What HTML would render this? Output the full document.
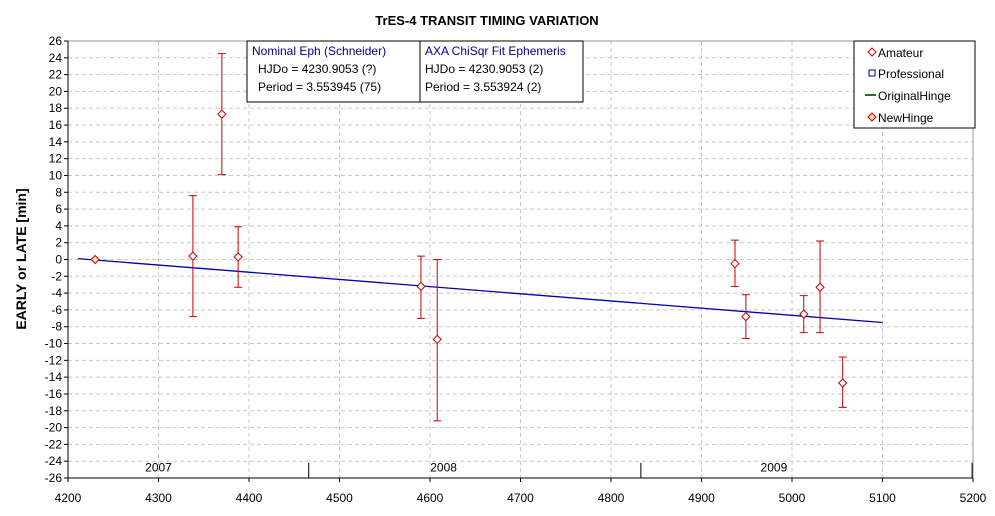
<!DOCTYPE html>
<html><head><meta charset="utf-8"><style>
body{margin:0;background:#fff;font-family:"Liberation Sans",Arial,sans-serif}
svg text{font-family:"Liberation Sans",Arial,sans-serif}
</style></head><body>
<svg width="995" height="511" id="chart">
<text x="487" y="25" text-anchor="middle" font-size="13" font-weight="bold">TrES-4 TRANSIT TIMING VARIATION</text>
<text transform="translate(26,259) rotate(-90)" text-anchor="middle" font-size="14" font-weight="bold">EARLY or LATE [min]</text>
<g id="grid"></g><g id="axes"></g><g id="fit"></g><g id="pts"></g>
<g>
<rect x="247" y="41" width="173" height="61" fill="#fff" stroke="#000"/>
<text x="252" y="55" font-size="12" fill="#00008b">Nominal Eph (Schneider)</text>
<text x="258" y="73" font-size="12">HJDo = 4230.9053 (?)</text>
<text x="258" y="91" font-size="12">Period = 3.553945 (75)</text></g>
<g>
<rect x="420" y="41" width="163" height="61" fill="#fff" stroke="#000"/>
<text x="425" y="55" font-size="12" fill="#00008b">AXA ChiSqr Fit Ephemeris</text>
<text x="425" y="73" font-size="12">HJDo = 4230.9053 (2)</text>
<text x="425" y="91" font-size="12">Period = 3.553924 (2)</text></g>
<g>
<rect x="854" y="41" width="121" height="87" fill="#fff" stroke="#000"/>
<g><path d="M872,48l4,4l-4,4l-4,-4z" fill="none" stroke="#c00"/><text x="878" y="57" font-size="12">Amateur</text></g>
<g><rect x="869" y="70" width="6" height="6" fill="none" stroke="#00008b"/><text x="878" y="78" font-size="12">Professional</text></g>
<g><line x1="865" y1="95" x2="876" y2="95" stroke="#2a6e2a" stroke-width="2"/><text x="878" y="100" font-size="12">OriginalHinge</text></g>
<g><path d="M872,113l4,4l-4,4l-4,-4z" fill="#fde6a0" stroke="#c00"/><text x="878" y="122" font-size="12">NewHinge</text></g>
</g>
</svg>
<script>
const xTicks=[4200,4300,4400,4500,4600,4700,4800,4900,5000,5100,5200];
const yTicks=[26,24,22,20,18,16,14,12,10,8,6,4,2,0,-2,-4,-6,-8,-10,-12,-14,-16,-18,-20,-22,-24,-26];
const amX=[4338,4370,4388,4590,4608,4937,4949,5013,5031,5056];
const amY=[0.4,17.3,0.3,-3.2,-9.5,-0.5,-6.8,-6.5,-3.3,-14.7];
const amHi=[7.6,24.5,3.9,0.4,0,2.3,-4.2,-4.3,2.2,-11.6];
const amLo=[-6.8,10.1,-3.3,-7.0,-19.2,-3.2,-9.4,-8.7,-8.7,-17.6];
const hingeX=[4230];const hingeY=[0];
const fitX=[4211,5100];const fitY=[0.1,-7.5];
const yearBounds=[4466,4833,5199];
const yearLabels=["2007","2008","2009"];const yearLabelX=[4300,4615,4980];
const NS="http://www.w3.org/2000/svg";
const L=68,R=973,T=41,B=478;
const sx=v=>L+(v-4200)/1000*(R-L);
const sy=v=>T+(26-v)/52*(B-T);
function mk(p,t,a){const e=document.createElementNS(NS,t);for(const k in a)e.setAttribute(k,a[k]);document.getElementById(p).appendChild(e);return e;}
xTicks.forEach(v=>{
 if(v>4200&&v<5200){const g=mk('grid','line',{x1:sx(v),x2:sx(v),y1:T,y2:B,stroke:'#c8c8c8','stroke-dasharray':'4,3'});
 
 }
 const tk=mk('axes','line',{x1:sx(v),x2:sx(v),y1:B,y2:B+4,stroke:'#000'});
 
 
 const t=mk('axes','text',{x:sx(v),y:B+24,'text-anchor':'middle','font-size':12});t.textContent=v;
 
 
});
yTicks.forEach(v=>{
 if(v<26&&v>-26){const g=mk('grid','line',{x1:L,x2:R,y1:sy(v),y2:sy(v),stroke:'#c8c8c8','stroke-dasharray':'4,3'});
 
 }
 const tk=mk('axes','line',{x1:L-4,x2:L,y1:sy(v),y2:sy(v),stroke:'#000'});
 
 
 const t=mk('axes','text',{x:L-6,y:sy(v)+4,'text-anchor':'end','font-size':12});t.textContent=v;
 
 
});
const plotBorder=mk('axes','path',{d:`M${L},${T}H${R}V${B}`,fill:'none',stroke:'#999'});


const axLines=mk('axes','path',{d:`M${L},${T}V${B}H${R}`,fill:'none',stroke:'#000'});


yearBounds.forEach(v=>{const l=mk('axes','line',{x1:sx(v),x2:sx(v),y1:sy(-24.2),y2:B,stroke:'#000'});
 
 });
yearLabels.forEach((s,i)=>{const t=mk('axes','text',{x:sx(yearLabelX[i]),y:sy(-25.2),'text-anchor':'middle','font-size':12});t.textContent=s;
 
 });
const fitLine=mk('fit','line',{x1:sx(fitX[0]),y1:sy(fitY[0]),x2:sx(fitX[1]),y2:sy(fitY[1]),stroke:'#0000b0','stroke-width':1.3});


amX.forEach((v,i)=>{const x=sx(v);
 const e=mk('pts','path',{d:`M${x},${sy(amHi[i])}V${sy(amLo[i])}M${x-4},${sy(amHi[i])}h8M${x-4},${sy(amLo[i])}h8`,stroke:'#c00',fill:'none'});
 
 
 const p=mk('pts','path',{d:`M${x},${sy(amY[i])-4}l4,4l-4,4l-4,-4z`,fill:'#fff',stroke:'#c00'});
 
 
});
hingeX.forEach((v,i)=>{const p=mk('pts','path',{d:`M${sx(v)},${sy(hingeY[i])-4}l4,4l-4,4l-4,-4z`,fill:'#fde6a0',stroke:'#c00'});
 
 });
</script>
</body></html>
